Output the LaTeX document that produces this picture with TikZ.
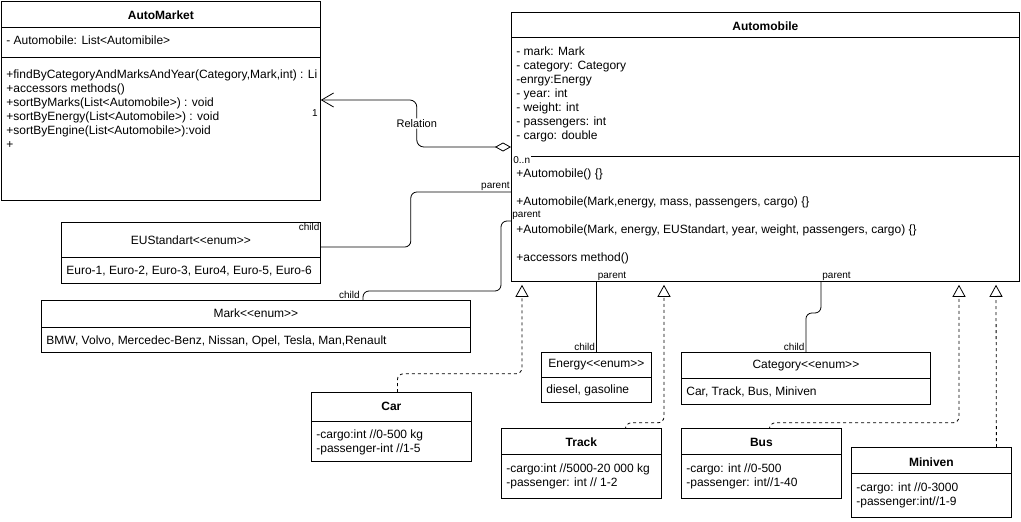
\documentclass[tikz,border=0pt]{standalone}
\usepackage{fontspec}
\setmainfont{Liberation Sans}[Ligatures=TeXOff]
\usetikzlibrary{positioning,calc,arrows.meta}

\begin{document}
\begin{tikzpicture}[
				x=1pt, y=-1pt, line width=0.8pt,
				font=\fontsize{12}{14}\selectfont,
				classbox/.style={rectangle, draw, anchor=north west, inner sep=0pt},
				classtitle/.style={inner sep=0pt, font=\fontsize{12}{14}\selectfont\bfseries},
				enumtitle/.style={inner sep=0pt},
				members/.style={anchor=base west, align=left, inner sep=0pt},
				rolelabel/.style={inner sep=1pt, font=\fontsize{10}{11}\selectfont},
				link/.style={rounded corners=6pt},
				realize/.style={dashed, rounded corners=6pt, -{Triangle[open, length=12pt, width=13pt]}},
				relation/.style={rounded corners=7pt, {Diamond[open, length=16pt, width=9pt]}-{Straight Barb[length=12pt, width=14pt]}}
				]
				\useasboundingbox (0,0) rectangle (1021,522);
				
				% classes
				\node[classbox, minimum width=319pt, minimum height=199pt] (automarket) at (1,1) {};
				\node[classbox, minimum width=508pt, minimum height=269pt] (automobile) at (511,12) {};
				\node[classbox, minimum width=259pt, minimum height=61pt] (eustandart) at (61,222) {};
				\node[classbox, minimum width=429pt, minimum height=52pt] (mark) at (41,300) {};
				\node[classbox, minimum width=110pt, minimum height=50pt] (energy) at (541,352) {};
				\node[classbox, minimum width=249pt, minimum height=52pt] (category) at (681,352) {};
				\node[classbox, minimum width=160pt, minimum height=69pt] (car) at (311,392) {};
				\node[classbox, minimum width=160pt, minimum height=70pt] (track) at (501,428) {};
				\node[classbox, minimum width=160pt, minimum height=70pt] (bus) at (681,428) {};
				\node[classbox, minimum width=160pt, minimum height=70pt] (miniven) at (851,447) {};
				
				\foreach \cls/\off in {automarket/26, automarket/56, automobile/25, automobile/144, eustandart/35, mark/27, energy/25, category/26, car/29, track/26, bus/26, miniven/26}
					\draw ($(\cls.north west)+(0,\off)$) -- ($(\cls.north east)+(0,\off)$);
				
				% titles
				\node[classtitle] (automarkettitle) at ($(automarket.north)+(0,14)$) {AutoMarket};
				\node[classtitle] (automobiletitle) at ($(automobile.north)+(0,14)$) {Automobile};
				\node[enumtitle] (eustandarttitle) at ($(eustandart.north)+(0,18)$) {EUStandart<<enum>>};
				\node[enumtitle] (marktitle) at ($(mark.north)+(0,13)$) {Mark<<enum>>};
				\node[enumtitle] (energytitle) at ($(energy.north)+(0,13)$) {Energy<<enum>>};
				\node[enumtitle] (categorytitle) at ($(category.north)+(0,14)$) {Category<<enum>>};
				\node[classtitle] (cartitle) at ($(car.north)+(0,14)$) {Car};
				\node[classtitle] (tracktitle) at ($(track.north)+(0,14)$) {Track};
				\node[classtitle] (bustitle) at ($(bus.north)+(0,14)$) {Bus};
				\node[classtitle] (miniventitle) at ($(miniven.north)+(0,15)$) {Miniven};
				
				% members (base = last line)
				\node[members] (automarketattr) at ($(automarket.north west)+(5,44)$) {- Automobile: List<Automibile>};
				\node[members] (automarketops) at ($(automarket.north west)+(5,147)$) {+findByCategoryAndMarksAndYear(Category,Mark,int) : Li\\+accessors methods()\\+sortByMarks(List<Automobile>) : void\\+sortByEnergy(List<Automobile>) : void\\+sortByEngine(List<Automobile>):void\\+};
				\node[members] (automobileattr) at ($(automobile.north west)+(5,127)$) {- mark: Mark\\- category: Category\\-enrgy:Energy\\- year: int\\- weight: int\\- passengers: int\\- cargo: double};
				\node[members] (automobileops) at ($(automobile.north west)+(5,249)$) {+Automobile() \{\}\\[14pt]+Automobile(Mark,energy, mass, passengers, cargo) \{\}\\[14pt]+Automobile(Mark, energy, EUStandart, year, weight, passengers, cargo) \{\}\\[14pt]+accessors method()};
				\node[members] (eustandartvalues) at ($(eustandart.north west)+(5,52)$) {Euro-1, Euro-2, Euro-3, Euro4, Euro-5, Euro-6};
				\node[members] (markvalues) at ($(mark.north west)+(5,44)$) {BMW, Volvo, Mercedec-Benz, Nissan, Opel, Tesla, Man,Renault};
				\node[members] (energyvalues) at ($(energy.north west)+(5,41)$) {diesel, gasoline};
				\node[members] (categoryvalues) at ($(category.north west)+(5,43)$) {Car, Track, Bus, Miniven};
				\node[members] (carattr) at ($(car.north west)+(5,60)$) {-cargo:int //0-500 kg\\-passenger-int //1-5};
				\node[members] (trackattr) at ($(track.north west)+(5,58)$) {-cargo:int //5000-20 000 kg\\-passenger: int // 1-2};
				\node[members] (busattr) at ($(bus.north west)+(5,58)$) {-cargo: int //0-500\\-passenger: int//1-40};
				\node[members] (minivenattr) at ($(miniven.north west)+(5,58)$) {-cargo: int //0-3000\\-passenger:int//1-9};
				
				% aggregation
				\draw[relation] ($(automobile.north west)+(0,135)$) -| node[pos=0.75, fill=white, inner sep=1pt, font=\fontsize{11}{12}\selectfont] (relationlabel) {Relation} ($(automarket.north east)+(96,99)$) -- ($(automarket.north east)+(0,99)$);
				\node[rolelabel] (automarketmult) at ($(automarket.north east)+(-6,112)$) {1};
				\node[rolelabel, fill=white, anchor=west] (automobilemult) at ($(automobile.north west)+(1,148)$) {0..n};
				
				% enum links
				\draw[link] ($(automobile.north west)+(0,180)$) node[rolelabel, anchor=south east] (euparent) {parent} -| ($(eustandart.north east)+(90,25)$) -- ($(eustandart.north east)+(0,25)$);
				\node[rolelabel, anchor=north east] (euchild) at (eustandart.north east) {child};
				\draw[link] ($(automobile.north west)+(0,209)$) node[rolelabel, anchor=south west] (markparent) {parent} -| ($(mark.north west)+(460,-9)$) -| ($(mark.north west)+(322,0)$) node[rolelabel, anchor=south east, xshift=-2pt] (markchild) {child};
				\draw (automobile.south -| energy.north) node[rolelabel, anchor=south west] (energyparent) {parent} -- (energy.north) node[rolelabel, anchor=south east] (energychild) {child};
				\draw[link] ($(automobile.south west)+(310,0)$) node[rolelabel, anchor=south west] (categoryparent) {parent} |- ($(category.north)+(0,-39)$) -- (category.north) node[rolelabel, anchor=south east] (categorychild) {child};
				
				% realizations
				\draw[realize] ($(car.north)+(6,0)$) |- ($(automobile.south west)+(11,92)$) -- ($(automobile.south west)+(11,3)$);
				\draw[realize] ($(track.north)+(44,0)$) |- ($(automobile.south west)+(153,141)$) -- ($(automobile.south west)+(153,3)$);
				\draw[realize] ($(bus.north)+(8,0)$) |- ($(automobile.south west)+(448,141)$) -- ($(automobile.south west)+(448,3)$);
				\draw[realize] ($(miniven.north)+(65,0)$) -- ($(automobile.south west)+(485,3)$);
			\end{tikzpicture}
\end{document}
